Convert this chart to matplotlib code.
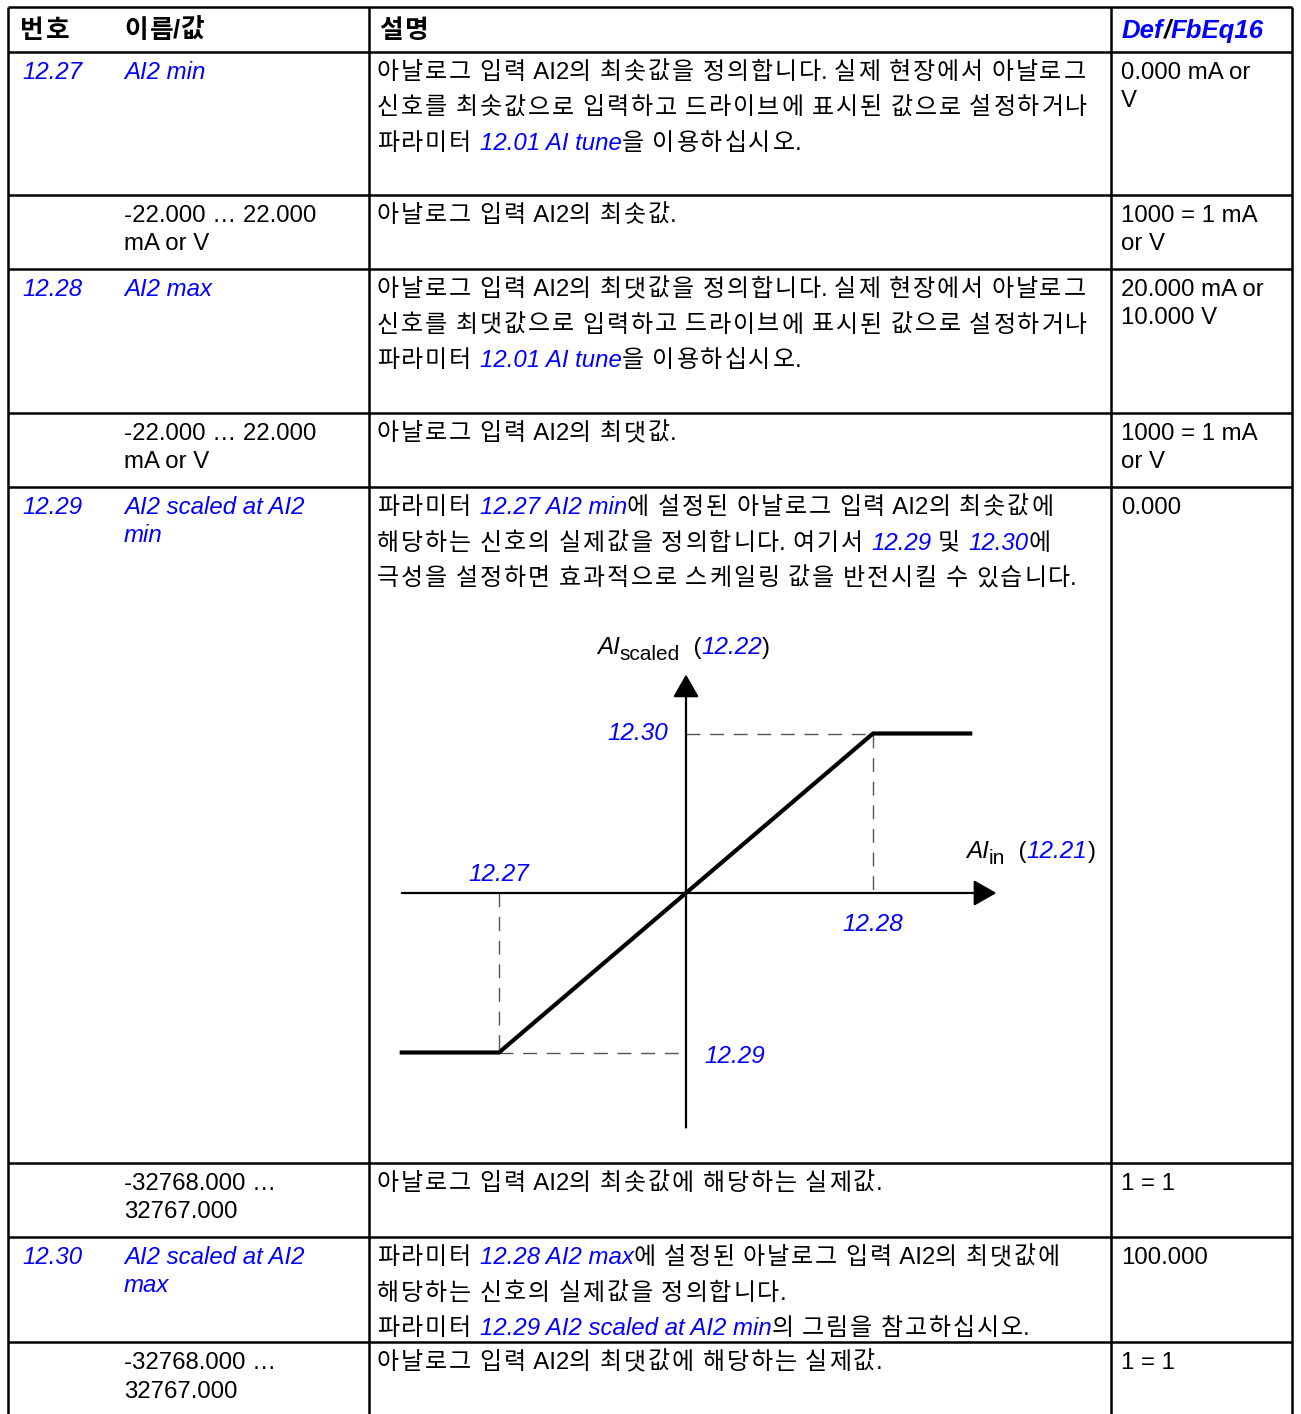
import matplotlib
matplotlib.use('Agg')
import matplotlib.pyplot as plt

plt.rcParams['font.family'] = ['Liberation Sans', 'Noto Sans CJK KR']

BLUE = '#0000ff'

# ---- table content ----
header = [
    [('번호', 'b')],
    [('이름/값', 'b')],
    [('설명', 'b')],
    [('Def', 'bl'), ('/', 'bk'), ('FbEq16', 'bl')],
]

numbers = ['12.27', '', '12.28', '', '12.29', '', '12.30', '']

names = [
    ['AI2 min'],
    ['-22.000 … 22.000', 'mA or V'],
    ['AI2 max'],
    ['-22.000 … 22.000', 'mA or V'],
    ['AI2 scaled at AI2', 'min'],
    ['-32768.000 …', '32767.000'],
    ['AI2 scaled at AI2', 'max'],
    ['-32768.000 …', '32767.000'],
]

descriptions = [
    ['아날로그 입력 AI2의 최솟값을 정의합니다. 실제 현장에서 아날로그',
     '신호를 최솟값으로 입력하고 드라이브에 표시된 값으로 설정하거나',
     [('파라미터 ', 'n'), ('12.01 AI tune', 'l'), ('을 이용하십시오.', 'n')]],
    ['아날로그 입력 AI2의 최솟값.'],
    ['아날로그 입력 AI2의 최댓값을 정의합니다. 실제 현장에서 아날로그',
     '신호를 최댓값으로 입력하고 드라이브에 표시된 값으로 설정하거나',
     [('파라미터 ', 'n'), ('12.01 AI tune', 'l'), ('을 이용하십시오.', 'n')]],
    ['아날로그 입력 AI2의 최댓값.'],
    [[('파라미터 ', 'n'), ('12.27 AI2 min', 'l'), ('에 설정된 아날로그 입력 AI2의 최솟값에', 'n')],
     [('해당하는 신호의 실제값을 정의합니다. 여기서 ', 'n'), ('12.29', 'l'), (' 및 ', 'n'),
      ('12.30', 'l'), ('에', 'n')],
     '극성을 설정하면 효과적으로 스케일링 값을 반전시킬 수 있습니다.'],
    ['아날로그 입력 AI2의 최솟값에 해당하는 실제값.'],
    [[('파라미터 ', 'n'), ('12.28 AI2 max', 'l'), ('에 설정된 아날로그 입력 AI2의 최댓값에', 'n')],
     '해당하는 신호의 실제값을 정의합니다.',
     [('파라미터 ', 'n'), ('12.29 AI2 scaled at AI2 min', 'l'), ('의 그림을 참고하십시오.', 'n')]],
    ['아날로그 입력 AI2의 최댓값에 해당하는 실제값.'],
]

defaults = [
    ['0.000 mA or', 'V'],
    ['1000 = 1 mA', 'or V'],
    ['20.000 mA or', '10.000 V'],
    ['1000 = 1 mA', 'or V'],
    ['0.000'],
    ['1 = 1'],
    ['100.000'],
    ['1 = 1'],
]

# ---- scaling diagram data (normalised units) ----
ai_in = [-1.52, -1.0, 1.0, 1.52]
ai_scaled = [-1.0, -1.0, 1.0, 1.0]
in_min, in_max = -1.0, 1.0          # 12.27, 12.28
out_min, out_max = -1.0, 1.0        # 12.29, 12.30
x_axis = (-1.52, 1.66)
y_axis = (-1.47, 1.37)

# ---- layout ----
W, H = 1301, 1414
row_edges = [7, 52, 195, 269, 413, 487, 1163, 1237, 1342, 1414]
col_lines = [8, 369, 1111, 1292]
col_x = [22, 124, 377, 1121]
FS = 17.3
TRACK = 1.9   # extra spacing after a hangul syllable (px)

fig = plt.figure(figsize=(W / 100, H / 100), dpi=100)
ax = fig.add_axes([0, 0, 1, 1])
ax.set_xlim(0, W)
ax.set_ylim(H, 0)
ax.axis('off')
renderer = fig.canvas.get_renderer()

STYLE = {
    'n': dict(color='black'),
    'l': dict(color=BLUE, style='italic'),
    'b': dict(color='black', weight='bold'),
    'bl': dict(color=BLUE, weight='bold', style='italic'),
    'bk': dict(color='black', weight='bold', style='italic'),
    'i': dict(color='black', style='italic'),
}

_wcache = {}


def text_width(s, kw):
    key = (s, tuple(sorted(kw.items())))
    if key in _wcache:
        return _wcache[key]
    t = ax.text(0, 0, '|' + s + '|', **kw)
    w = t.get_window_extent(renderer).width
    t.remove()
    t = ax.text(0, 0, '||', **kw)
    w0 = t.get_window_extent(renderer).width
    t.remove()
    _wcache[key] = w - w0
    return w - w0


def is_hangul(c):
    return '\uac00' <= c <= '\ud7a3'


def put(x, y, s, kw):
    ax.text(x, y, s, ha='left', va='baseline', **kw)
    return x + text_width(s, kw)


def draw_runs(x, y, runs, size=FS):
    if isinstance(runs, str):
        runs = [(runs, 'n')]
    for text, st in runs:
        fs = size
        dy = 0
        if st == 'sub':
            kw = dict(color='black')
            fs = size * 0.86
            dy = 6
        else:
            kw = dict(STYLE.get(st, STYLE['n']))
        kw['fontsize'] = fs
        seg = ''
        for j, c in enumerate(text):
            if is_hangul(c):
                if seg:
                    x = put(x, y + dy, seg, kw)
                    seg = ''
                x = put(x, y + dy, c, kw)
                nxt = text[j + 1] if j + 1 < len(text) else ''
                if nxt == ' ' or is_hangul(nxt):
                    x += TRACK
            else:
                seg += c
        if seg:
            x = put(x, y + dy, seg, kw)
    return x


# grid lines
for x in col_lines:
    ax.plot([x, x], [row_edges[0], H], color='black', lw=1.8, solid_capstyle='butt')
for y in row_edges[:-1]:
    ax.plot([col_lines[0], col_lines[-1]], [y, y], color='black', lw=1.8, solid_capstyle='butt')

# header
hx = [20, 124, 379, 1122]
for x, runs in zip(hx, header):
    draw_runs(x, 38, runs, size=18.5)

# body rows
for i in range(len(numbers)):
    top = row_edges[i + 1]
    base = top + 27
    st = 'l' if numbers[i] else 'n'
    if numbers[i]:
        draw_runs(col_x[0], base, [(numbers[i], 'l')])
    for k, line in enumerate(names[i]):
        draw_runs(col_x[1], base + k * 28.5, [(line, st)])
    for k, line in enumerate(descriptions[i]):
        draw_runs(col_x[2], base + k * 35.5, line)
    for k, line in enumerate(defaults[i]):
        draw_runs(col_x[3], base + k * 28, [(line, 'n')])

# ---- diagram ----
px0, px1, py0, py1 = 380, 1100, 600, 1150
ox, oy, sx, sy = 686, 893, 187.0, 159.5
dax = fig.add_axes([px0 / W, 1 - py1 / H, (px1 - px0) / W, (py1 - py0) / H])
dax.set_xlim((px0 - ox) / sx, (px1 - ox) / sx)
dax.set_ylim(-(py1 - oy) / sy, (oy - py0) / sy)
dax.axis('off')

arrow = dict(arrowstyle='-|>,head_length=0.7,head_width=0.4', color='black',
             lw=1.6, shrinkA=0, shrinkB=0, mutation_scale=20)
dax.annotate('', xy=(x_axis[1], 0), xytext=(x_axis[0], 0), arrowprops=arrow)
dax.annotate('', xy=(0, y_axis[1]), xytext=(0, y_axis[0]), arrowprops=arrow)

dash = dict(color='#555555', lw=1.0, ls=(0, (10, 7)))
dax.plot([0, in_max], [out_max, out_max], **dash)
dax.plot([in_max, in_max], [out_max, 0], **dash)
dax.plot([in_min, in_min], [0, out_min], **dash)
dax.plot([in_min, 0], [out_min, out_min], **dash)

dax.plot(ai_in, ai_scaled, color='black', lw=3.0, solid_joinstyle='miter')

lab = dict(color=BLUE, style='italic', fontsize=17.5, textcoords='offset points')
dax.annotate('12.30', (0, out_max), xytext=(-13, 0), ha='right', va='center', **lab)
dax.annotate('12.27', (in_min, 0), xytext=(0, 13.5), ha='center', va='center', **lab)
dax.annotate('12.28', (in_max, 0), xytext=(0, -23), ha='center', va='center', **lab)
dax.annotate('12.29', (0, out_min), xytext=(13, -3), ha='left', va='center', **lab)

# axis titles
draw_runs(597, 654, [('AI', 'i'), ('scaled', 'sub'), ('  (', 'n'), ('12.22', 'l'), (')', 'n')], size=17.5)
draw_runs(966, 858, [('AI', 'i'), ('in', 'sub'), ('  (', 'n'), ('12.21', 'l'), (')', 'n')], size=17.5)

fig.savefig('out.png', dpi=100)
